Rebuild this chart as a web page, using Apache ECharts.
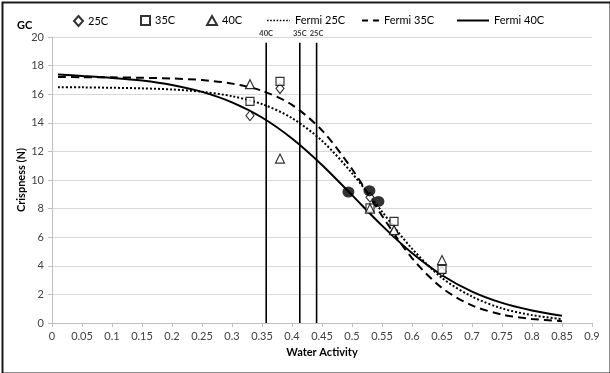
<!DOCTYPE html>
<html><head><meta charset="utf-8">
<script src="https://cdn.jsdelivr.net/npm/echarts@6/dist/echarts.min.js"></script>
<style>html,body{margin:0;padding:0;background:#fff}#c{width:610px;height:373px}</style>
</head><body><div id="c"></div>
<script>
// Measured points
const aw = [0.33, 0.38, 0.53, 0.57, 0.65];
const obs25 = [14.5, 16.4, 8.8, 6.35, 3.6];
const obs35 = [15.5, 16.9, 8.05, 7.1, 3.75];
const obs40 = [16.7, 11.5, 8.0, 6.5, 4.4];
// Filled (unlabelled) points
const extraAw = [0.494, 0.529, 0.544];
const extraVal = [9.16, 9.25, 8.5];
// Fermi fits
const curveAw = [0.01,0.05,0.10,0.15,0.20,0.25,0.30,0.35,0.40,0.45,0.50,0.55,0.60,0.65,0.70,0.75,0.80,0.85];
const fermi25 = [16.49,16.48,16.45,16.41,16.33,16.17,15.86,15.31,14.33,12.74,10.48,7.79,5.20,3.15,1.85,1.02,0.55,0.27];
const fermi35 = [17.20,17.19,17.18,17.15,17.10,16.99,16.74,16.24,15.25,13.47,10.77,7.50,4.54,2.45,1.23,0.59,0.28,0.13];
const fermi40 = [17.38,17.28,17.14,16.95,16.64,16.16,15.43,14.37,12.90,11.05,8.94,6.81,4.89,3.34,2.20,1.41,0.88,0.50];
// Critical water activity lines
const critLabels = ['40C', '35C', '25C'];
const critAw = [0.357, 0.413, 0.441];
const critTop = 19.6;

const font = 'Lato, "Open Sans", sans-serif';
const pairs = (xs, ys) => xs.map((x, i) => [x, ys[i]]);
const series = [];
const mk = {color: '#fff', borderColor: '#000', borderWidth: 1.2};
series.push({name: '25C', type: 'scatter', symbol: 'diamond', symbolSize: [8, 10], itemStyle: mk, data: pairs(aw, obs25), z: 4});
series.push({name: '35C', type: 'scatter', symbol: 'rect', symbolSize: 8, itemStyle: mk, data: pairs(aw, obs35), z: 4});
series.push({name: '40C', type: 'scatter', symbol: 'triangle', symbolSize: [9, 9], itemStyle: mk, data: pairs(aw, obs40), z: 5});
series.push({name: 'Fermi 25C', type: 'line', smooth: 0.3, symbol: 'none', showSymbol: false,
  lineStyle: {color: '#000', width: 2, type: [2, 2]}, itemStyle: {color: '#000'}, data: pairs(curveAw, fermi25), z: 3});
series.push({name: 'Fermi 35C', type: 'line', smooth: 0.3, symbol: 'none', showSymbol: false,
  lineStyle: {color: '#000', width: 2, type: [8, 5]}, itemStyle: {color: '#000'}, data: pairs(curveAw, fermi35), z: 3});
series.push({name: 'Fermi 40C', type: 'line', smooth: 0.3, symbol: 'none', showSymbol: false,
  lineStyle: {color: '#000', width: 2}, itemStyle: {color: '#000'}, data: pairs(curveAw, fermi40), z: 3});
series.push({name: 'pts', type: 'scatter', symbol: 'circle', symbolSize: [12, 11], itemStyle: {color: '#000'}, data: pairs(extraAw, extraVal), z: 6});
critAw.forEach((x, i) => {
  series.push({name: 'crit' + i, type: 'line', symbol: 'none', showSymbol: false,
    lineStyle: {color: '#000', width: 1.6}, z: 2, data: [[x, 0], [x, critTop]]});
});
series.push({name: 'critLabels', type: 'scatter', symbolSize: 0, silent: true, z: 7,
  data: critAw.map((x, i) => ({value: [x, critTop], name: critLabels[i]})),
  label: {show: true, position: 'top', distance: 5, formatter: p => p.name,
    fontFamily: font, fontSize: 7.5, fontWeight: 'bold', color: '#000'}});

// legend line icons built as filled paths
function dashPath(total, dash, gap, h) {
  let p = '', x = 0;
  while (x < total) { const w = Math.min(dash, total - x); p += `M${x},0h${w}v${h}h${-w}z`; x += dash + gap; }
  return 'path://' + p;
}
const legText = {fontFamily: font, fontSize: 11, color: '#000'};
const legends = [
  {name: '25C', left: 68, w: 9, h: 10},
  {name: '35C', left: 135, w: 9, h: 9},
  {name: '40C', left: 201, w: 10, h: 9},
  {name: 'Fermi 25C', left: 262, w: 23, h: 10, icon: dashPath(23, 1.6, 1.6, 1.6)},
  {name: 'Fermi 35C', left: 357, w: 17, h: 10, icon: dashPath(17, 6, 5, 2.2)},
  {name: 'Fermi 40C', left: 452, w: 32, h: 10, icon: dashPath(32, 32, 0, 2)}
].map(l => ({data: [l.icon ? {name: l.name, icon: l.icon} : l.name], left: l.left, top: 10,
  itemWidth: l.w, itemHeight: l.h, itemGap: 0, textStyle: legText, selectedMode: false}));

const chart = echarts.init(document.getElementById('c'), null, {renderer: 'canvas'});
chart.setOption({
  animation: false,
  backgroundColor: '#fff',
  title: {text: 'GC', left: 12, top: 15, textStyle: {fontFamily: font, fontSize: 11, fontWeight: 'bold', color: '#000'}},
  legend: legends,
  grid: {left: 52, right: 18, top: 37, bottom: 50},
  xAxis: {type: 'value', min: 0, max: 0.9, interval: 0.05,
    name: 'Water Activity', nameLocation: 'middle', nameGap: 24, nameMoveOverlap: false,
    nameTextStyle: {fontFamily: font, fontSize: 11, fontWeight: 'bold', color: '#000'},
    axisLine: {lineStyle: {color: '#bfbfbf'}}, axisTick: {show: true, length: 4, lineStyle: {color: '#bfbfbf'}},
    axisLabel: {fontFamily: font, fontSize: 11, color: '#404040', margin: 8}, splitLine: {show: false}},
  yAxis: {type: 'value', min: 0, max: 20, interval: 2,
    name: 'Crispness (N)', nameLocation: 'middle', nameGap: 25, nameMoveOverlap: false,
    nameTextStyle: {fontFamily: font, fontSize: 11, fontWeight: 'bold', color: '#000'},
    axisLine: {show: true, lineStyle: {color: '#bfbfbf'}}, axisTick: {show: true, length: 4, lineStyle: {color: '#bfbfbf'}},
    axisLabel: {fontFamily: font, fontSize: 11, color: '#404040', margin: 8},
    splitLine: {lineStyle: {color: '#d9d9d9'}}},
  graphic: [{type: 'rect', left: 0, top: 0, shape: {x: 1, y: 1, width: 608, height: 371},
    style: {fill: 'none', stroke: '#1a1a1a', lineWidth: 2}, silent: true}],
  series: series
});
</script></body></html>
